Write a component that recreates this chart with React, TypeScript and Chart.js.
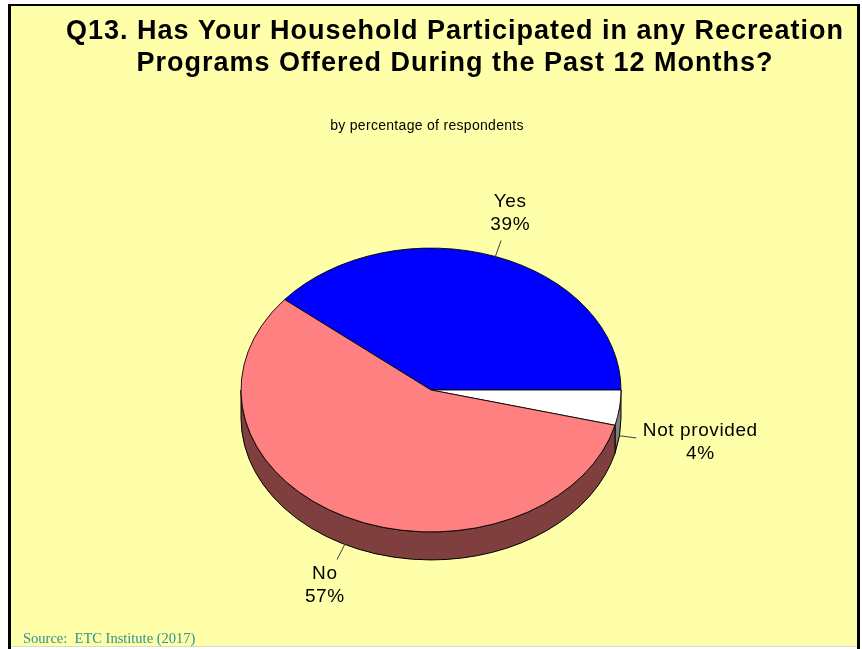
import React, { useEffect, useRef } from 'react';
import { Chart, registerables } from 'chart.js';

Chart.register(...registerables);

// ---- data ----
const categories = ['Yes', 'Not provided', 'No'];
const values = [39, 4, 57];
const titleLines = [
  'Q13. Has Your Household Participated in any Recreation',
  'Programs Offered During the Past 12 Months?',
];
const subtitleText = 'by percentage of respondents';
const sourceText = 'Source:  ETC Institute (2017)';

// ---- styles ----
const sliceColors = ['#0000FF', '#FFFFFF', '#FF8080'];
const sideColors = ['#00007F', '#808080', '#7F3F3F'];
const BG = '#FFFFAA';
const K = 0.747; // vertical squash of the pie (tilt)
const DEPTH = 28; // thickness of the 3D pie
const LABEL_FONT = '19px "Liberation Sans", Arial, sans-serif';

const total = values.reduce((a, b) => a + b, 0);
// first slice ends at 3 o'clock
const rotation = 90 - (values[0] / total) * 360;

const framePlugin = {
  id: 'frame',
  beforeDraw(chart: any) {
    const ctx = chart.ctx as CanvasRenderingContext2D;
    const W = chart.width, H = chart.height;
    ctx.save();
    ctx.fillStyle = '#FFFFFF';
    ctx.fillRect(0, 0, W, H);
    ctx.fillStyle = BG;
    ctx.fillRect(11, 6, W - 11 - 5, H - 6 - 3);
    ctx.fillStyle = '#D8D8D8';
    ctx.fillRect(11, H - 3, W - 16, 1);
    ctx.fillStyle = '#000000';
    ctx.fillRect(8, 4, W - 8 - 2, 2);
    ctx.fillRect(8, 4, 3, H - 4);
    ctx.fillRect(W - 5, 4, 3, H - 4);
    ctx.restore();
  },
};

const pie3dPlugin = {
  id: 'pie3d',
  beforeDatasetsDraw(chart: any) {
    const ctx = chart.ctx as CanvasRenderingContext2D;
    const arcs = chart.getDatasetMeta(0).data as any[];
    const { x: cx, y: cy, outerRadius: r } = arcs[0];
    const ry = r * K;
    ctx.save();
    ctx.lineWidth = 1;
    ctx.strokeStyle = '#000000';
    arcs.forEach((arc, i) => {
      const s = arc.startAngle, e = arc.endAngle;
      for (let k = -1; k <= 1; k++) {
        const lo = Math.max(s, 2 * Math.PI * k);
        const hi = Math.min(e, Math.PI + 2 * Math.PI * k);
        if (hi > lo) {
          ctx.beginPath();
          ctx.ellipse(cx, cy, r, ry, 0, lo, hi, false);
          ctx.ellipse(cx, cy + DEPTH, r, ry, 0, hi, lo, true);
          ctx.closePath();
          ctx.fillStyle = sideColors[i];
          ctx.fill();
          ctx.stroke();
        }
      }
    });
    ctx.restore();
    ctx.save();
    ctx.translate(cx, cy);
    ctx.scale(1, K);
    ctx.translate(-cx, -cy);
  },
  afterDatasetsDraw(chart: any) {
    chart.ctx.restore();
  },
};

const textPlugin = {
  id: 'texts',
  afterDraw(chart: any) {
    const ctx = chart.ctx as CanvasRenderingContext2D;
    const arcs = chart.getDatasetMeta(0).data as any[];
    const { x: cx, y: cy, outerRadius: r } = arcs[0];
    const ry = r * K;
    ctx.save();
    // slice labels with leader lines
    ctx.font = LABEL_FONT;
    (ctx as any).letterSpacing = '0.6px';
    ctx.textAlign = 'center';
    ctx.textBaseline = 'alphabetic';
    arcs.forEach((arc, i) => {
      const m = (arc.startAngle + arc.endAngle) / 2;
      const c = Math.cos(m), sn = Math.sin(m);
      const px = cx + r * c;
      const py = cy + ry * sn + (sn > 0 ? DEPTH : 0);
      ctx.strokeStyle = '#404040';
      ctx.lineWidth = 1;
      ctx.beginPath();
      ctx.moveTo(px, py);
      ctx.lineTo(px + c * 17, py + sn * 17);
      ctx.stroke();
      const lines = [categories[i], Math.round((values[i] / total) * 100) + '%'];
      const w = Math.max(...lines.map((l) => ctx.measureText(l).width));
      const h = 40;
      const tx = px + c * 24 + (c * w) / 2;
      const ty = py + sn * 26 + (sn * h) / 2;
      ctx.fillStyle = '#000000';
      ctx.fillText(lines[0], tx, ty - 6);
      ctx.fillText(lines[1], tx, ty + 17);
    });
    // title
    ctx.fillStyle = '#000000';
    ctx.font = 'bold 27px "Liberation Sans", Arial, sans-serif';
    (ctx as any).letterSpacing = '1px';
    ctx.fillText(titleLines[0], 455, 39);
    ctx.fillText(titleLines[1], 455, 71);
    // subtitle
    ctx.font = '14px "Liberation Sans", Arial, sans-serif';
    (ctx as any).letterSpacing = '0.3px';
    ctx.fillText(subtitleText, 427, 130);
    // source
    ctx.textAlign = 'left';
    ctx.fillStyle = '#2E9494';
    ctx.font = '14.5px "Liberation Serif", "Times New Roman", serif';
    (ctx as any).letterSpacing = '0px';
    ctx.fillText(sourceText, 23, 643);
    ctx.restore();
  },
};

export default function App() {
  const ref = useRef<HTMLCanvasElement>(null);
  useEffect(() => {
    const chart = new Chart(ref.current as HTMLCanvasElement, {
      type: 'pie',
      data: {
        labels: categories,
        datasets: [
          {
            data: values,
            backgroundColor: sliceColors,
            borderColor: '#000000',
            borderWidth: 1,
            clip: false as any,
          },
        ],
      },
      options: {
        responsive: false,
        animation: false,
        events: [],
        rotation,
        layout: { padding: { left: 240.5, right: 240.5, top: 199.5, bottom: 68.5 } },
        plugins: {
          legend: { display: false },
          tooltip: { enabled: false },
          title: { display: false },
        },
      } as any,
      plugins: [framePlugin, pie3dPlugin, textPlugin],
    });
    return () => chart.destroy();
  }, []);
  return (
    <div style={{ position: 'fixed', left: 0, top: 0, width: 862, height: 649 }}>
      <canvas ref={ref} width={862} height={649} style={{ display: 'block' }} />
    </div>
  );
}
